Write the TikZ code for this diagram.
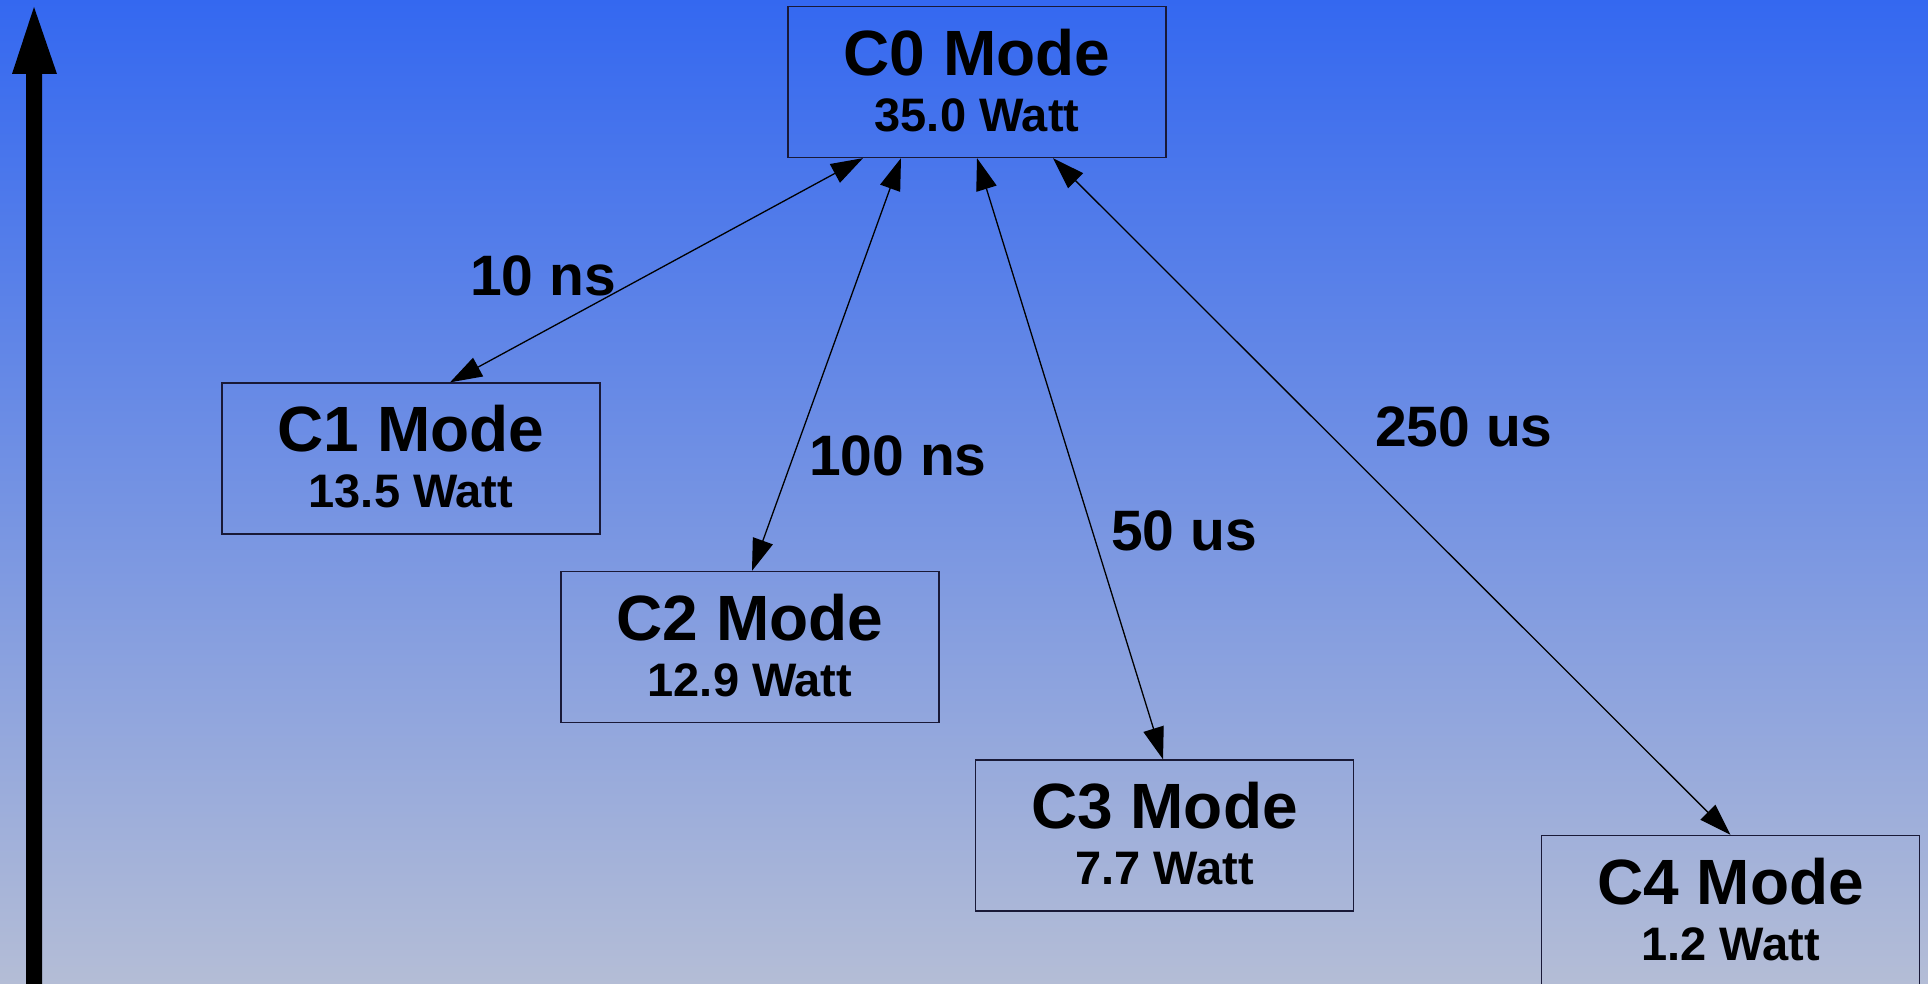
\documentclass[tikz,border=0pt]{standalone}
\usepackage{fontspec}
\setmainfont{Liberation Sans}
\usetikzlibrary{arrows.meta,calc}
\definecolor{bgtop}{RGB}{52,104,240}
\definecolor{bgbot}{RGB}{180,189,214}
\definecolor{boxline}{RGB}{25,25,55}
\tikzset{
  modebox/.style={draw=boxline,line width=1.3pt,minimum width=378pt,minimum height=151pt,inner sep=0pt},
  titletext/.style={inner sep=0pt,font=\fontsize{64}{76}\selectfont\bfseries},
  watttext/.style={inner sep=0pt,font=\fontsize{47}{56}\selectfont\bfseries},
  timetext/.style={inner sep=0pt,font=\fontsize{57}{68}\selectfont\bfseries},
  conn/.style={line width=1.3pt,{Triangle[length=32pt,width=21pt]}-{Triangle[length=32pt,width=21pt]}},
}
\begin{document}
\begin{tikzpicture}[x=1pt,y=-1pt]
\useasboundingbox (0,0) rectangle (1928,984);
\shade[top color=bgtop,bottom color=bgbot] (0,0) rectangle (1928,984);
% vertical arrow
\fill[black] (26,985) -- (26,74) -- (12,74) -- (34,7) -- (57,74) -- (42,74) -- (42,985) -- cycle;
% boxes
\node[modebox] (c0) at (977,82) {};
\node[modebox] (c1) at (411,458.5) {};
\node[modebox] (c2) at (750,647) {};
\node[modebox] (c3) at (1164.5,835.5) {};
\node[modebox] (c4) at (1730.5,911) {};
% texts
\foreach \n/\c/\w in {c0/C0/35.0, c1/C1/13.5, c2/C2/12.9, c3/C3/7.7, c4/C4/1.2}{
  \node[titletext] (\n t) at ([yshift=-46.5pt]\n.north) {\c\ Mode};
  \node[watttext] (\n w) at ([yshift=-109.5pt]\n.north) {\w\ Watt};
}
% connectors
\draw[conn] ([xshift=-114pt]c0.south) -- ([xshift=39pt]c1.north);
\draw[conn] ([xshift=-76pt]c0.south) -- ([xshift=2pt]c2.north);
\draw[conn] (c0.south) -- ([xshift=-1.5pt]c3.north);
\draw[conn] ([xshift=76pt]c0.south) -- (c4.north);
% labels
\node[timetext] (l1) at (543,276) {10 ns};
\node[timetext] (l2) at (898,456) {100 ns};
\node[timetext] (l3) at (1184,531) {50 us};
\node[timetext] (l4) at (1464,427) {250 us};
\end{tikzpicture}
\end{document}
